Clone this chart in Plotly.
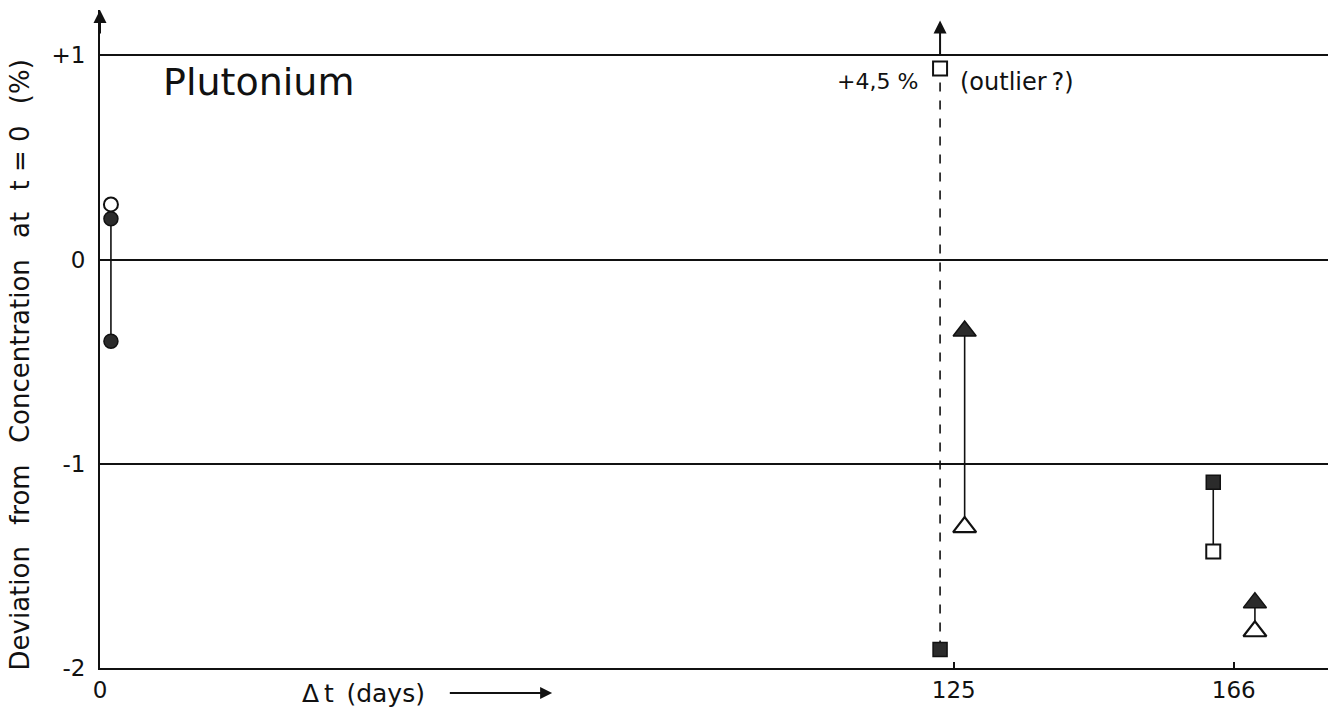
import plotly.graph_objects as go

# Deviation of Pu concentration from its value at t = 0, per sampling date
circle_x = [1.6]
circle_open = [0.27]
circle_filled = [0.20, -0.40]

tri_x = [126.6, 169.1]
tri_filled = [-0.35, -1.68]
tri_open = [-1.31, -1.82]

sq_x = [123.0, 163.0]
sq_filled = [-1.91, -1.09]
sq_open = [4.5, -1.43]          # first value lies far above the scale

x_ticks = [0, 125, 166]
x_ticklabels = ["0", "125", "166"]
y_ticks = [-2, -1, 0, 1]
y_ticklabels = ["-2", "-1", "0", "+1"]

Y_CAP = 0.935                    # off-scale values are pinned just under +1
FONT = "DejaVu Sans"
INK = "#111111"
FILL = "#2b2b2b"
GAP = "\u2002 "                  # wide word gap used in the captions

def shown(v):
    return v if v <= 1.2 else Y_CAP

fig = go.Figure()

# vertical connectors between paired measurements
pairs = [
    (circle_x[0], circle_filled[0], circle_filled[1], "solid"),
    (tri_x[0], tri_open[0], tri_filled[0], "solid"),
    (tri_x[1], tri_open[1], tri_filled[1], "solid"),
    (sq_x[1], sq_open[1], sq_filled[1], "solid"),
    (sq_x[0], sq_filled[0], shown(sq_open[0]), "dash"),
]
for x, y0, y1, dash in pairs:
    fig.add_trace(go.Scatter(x=[x, x], y=[y0, y1], mode="lines",
                             line=dict(color=INK, width=1.6, dash=dash),
                             hoverinfo="skip", showlegend=False))

fig.add_trace(go.Scatter(x=circle_x, y=circle_open, mode="markers",
                         marker=dict(symbol="circle", size=14, color="white",
                                     line=dict(color=INK, width=2)),
                         showlegend=False))
fig.add_trace(go.Scatter(x=circle_x * 2, y=circle_filled, mode="markers",
                         marker=dict(symbol="circle", size=14, color=FILL,
                                     line=dict(color=INK, width=1.5)),
                         showlegend=False))
fig.add_trace(go.Scatter(x=tri_x, y=tri_filled, mode="markers",
                         marker=dict(symbol="triangle-up", size=20, color=FILL,
                                     line=dict(color=INK, width=1.5)),
                         showlegend=False))
fig.add_trace(go.Scatter(x=tri_x, y=tri_open, mode="markers",
                         marker=dict(symbol="triangle-up", size=20, color="white",
                                     line=dict(color=INK, width=2.2)),
                         showlegend=False))
fig.add_trace(go.Scatter(x=sq_x, y=sq_filled, mode="markers",
                         marker=dict(symbol="square", size=14, color=FILL,
                                     line=dict(color=INK, width=1.5)),
                         showlegend=False))
fig.add_trace(go.Scatter(x=sq_x, y=[shown(v) for v in sq_open], mode="markers",
                         marker=dict(symbol="square", size=14, color="white",
                                     line=dict(color=INK, width=2)),
                         showlegend=False))

annotations = [
    # arrow on top of the y axis
    dict(x=0, y=1.222, ax=0, ay=1.10, xref="x", yref="y", axref="x", ayref="y",
         showarrow=True, arrowhead=2, arrowsize=1.3, arrowwidth=2, arrowcolor=INK, text=""),
    # off-scale arrow above the outlier
    dict(x=sq_x[0], y=1.17, ax=sq_x[0], ay=0.99, xref="x", yref="y", axref="x", ayref="y",
         showarrow=True, arrowhead=2, arrowsize=1.3, arrowwidth=2, arrowcolor=INK, text=""),
    dict(x=sq_x[0] - 2.9, y=0.87, xref="x", yref="y", xanchor="right", yanchor="middle",
         text="+" + f"{sq_open[0]:.1f}".replace(".", ",") + " %", showarrow=False,
         font=dict(family=FONT, size=22, color=INK)),
    dict(x=sq_x[0] + 2.6, y=0.87, xref="x", yref="y", xanchor="left", yanchor="middle",
         text="(outlier\u2009?)", showarrow=False,
         font=dict(family=FONT, size=24, color=INK)),
    dict(x=9.0, y=0.87, xref="x", yref="y", xanchor="left", yanchor="middle",
         text="Plutonium", showarrow=False,
         font=dict(family=FONT, size=38, color=INK)),
    # y-axis caption
    dict(x=-0.065, y=0.46, xref="paper", yref="paper", xanchor="center", yanchor="middle",
         textangle=-90, showarrow=False,
         text=f"Deviation{GAP}from{GAP}Concentration{GAP}at{GAP}t = 0{GAP}(%)",
         font=dict(family=FONT, size=26, color=INK)),
    # x-axis caption with arrow
    dict(x=29.3, y=-0.038, xref="x", yref="paper", xanchor="left", yanchor="middle",
         text="\u0394\u2009t\u2002(days)", showarrow=False,
         font=dict(family=FONT, size=25, color=INK)),
    dict(x=66.2, y=-0.038, ax=51.0, ay=0, xref="x", yref="paper", axref="x", ayref="pixel",
         showarrow=True, arrowhead=2, arrowsize=1.2, arrowwidth=2, arrowcolor=INK, text=""),
]

fig.update_layout(
    width=1340, height=715,
    margin=dict(l=100, r=12, t=10, b=47),
    plot_bgcolor="white", paper_bgcolor="white",
    font=dict(family=FONT, size=22, color=INK),
    annotations=annotations,
    showlegend=False,
)
fig.update_xaxes(range=[0, 179.8], tickvals=x_ticks, ticktext=x_ticklabels,
                 showline=True, linecolor=INK, linewidth=2, showgrid=False,
                 zeroline=False, ticks="inside", ticklen=6, tickwidth=1.5,
                 tickcolor=INK, tickfont=dict(size=23))
fig.update_yaxes(range=[-2, 1.222], tickvals=y_ticks, ticktext=y_ticklabels,
                 showline=True, linecolor=INK, linewidth=2, showgrid=True,
                 gridcolor=INK, gridwidth=2, zeroline=False, ticks="",
                 ticklabelstandoff=8, tickfont=dict(size=23))

fig.write_html("out.html")
